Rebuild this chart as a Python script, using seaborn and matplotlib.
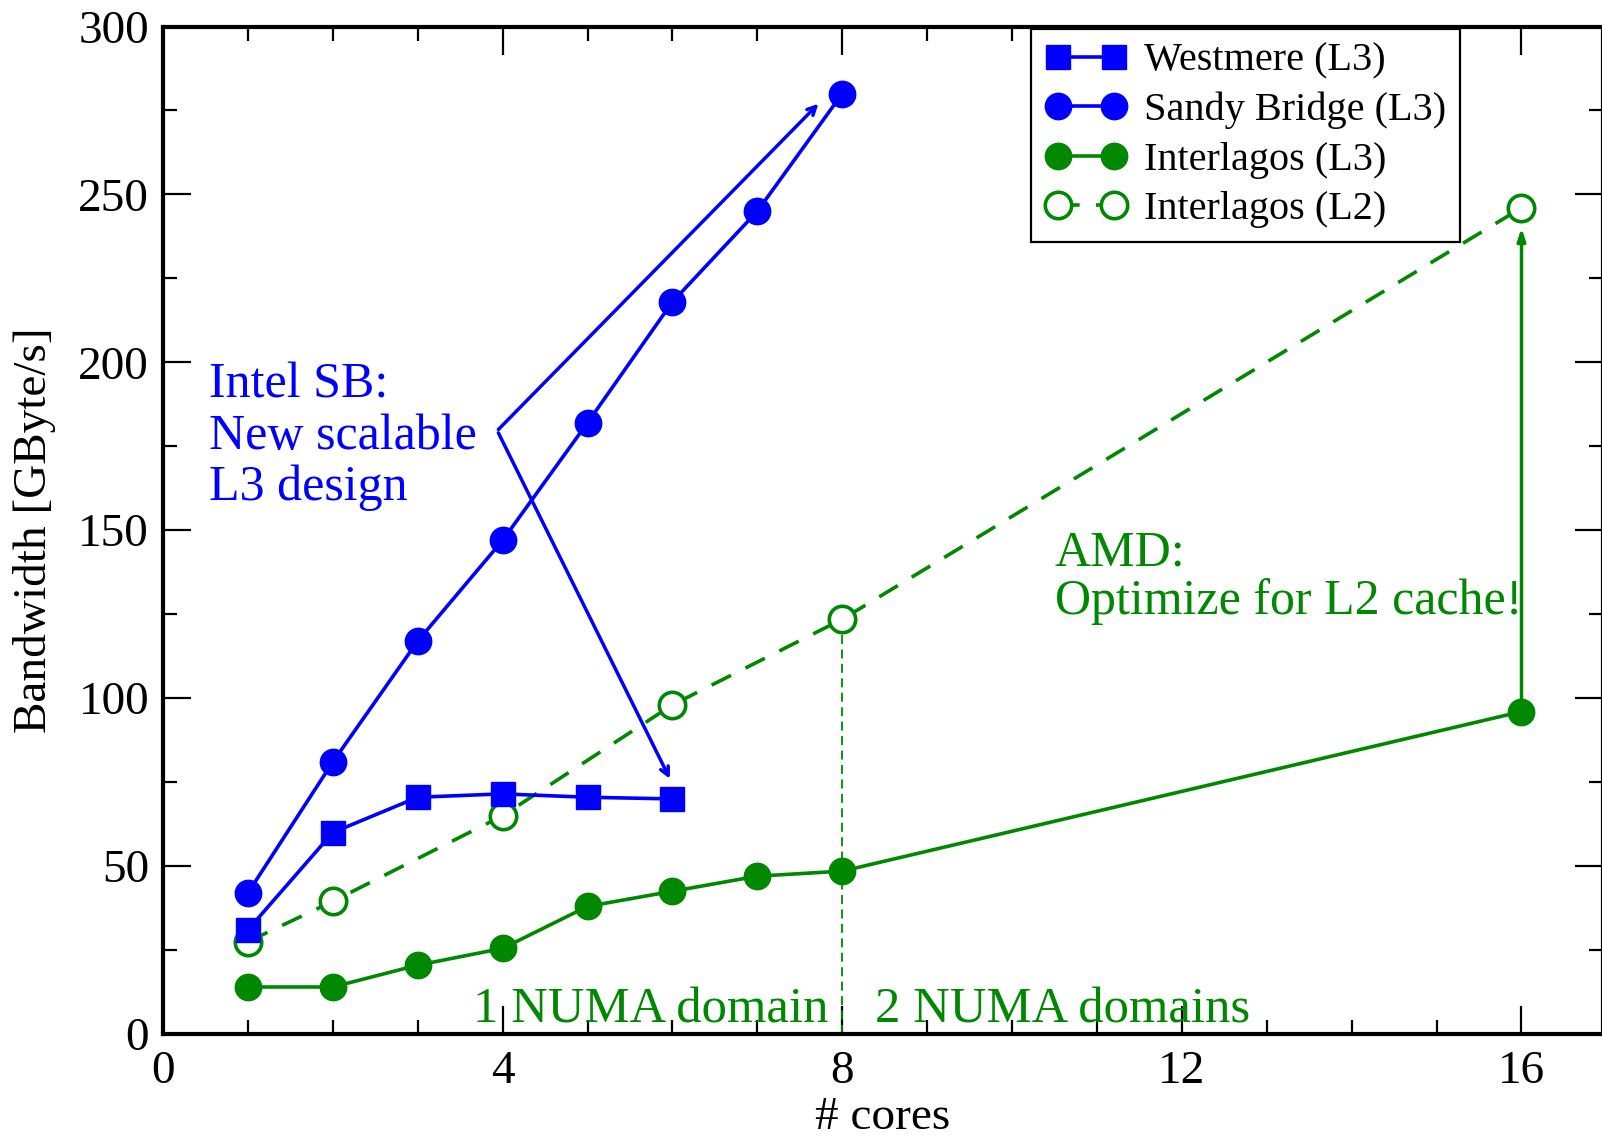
import numpy as np
import pandas as pd
import matplotlib
matplotlib.use("Agg")
import matplotlib.pyplot as plt
import seaborn as sns
from matplotlib.lines import Line2D

# ---- data ----
west_x = [1, 2, 3, 4, 5, 6]
west_y = [31, 60, 70.5, 71.5, 70.5, 70]
sb_x = [1, 2, 3, 4, 5, 6, 7, 8]
sb_y = [42, 81, 117, 147, 182, 218, 245, 280]
il3_x = [1, 2, 3, 4, 5, 6, 7, 8, 16]
il3_y = [14, 14, 20.5, 25.5, 38, 42.5, 47, 48.5, 96]
il2_x = [1, 2, 4, 6, 8, 16]
il2_y = [27.5, 39.5, 65, 98, 123.5, 246]
labels = ["Westmere (L3)", "Sandy Bridge (L3)", "Interlagos (L3)", "Interlagos (L2)"]

BLUE = "#0000ff"
GREEN = "#008800"

sns.set_theme(style="ticks")
plt.rcParams["font.family"] = ["Liberation Serif", "DejaVu Serif"]
plt.rcParams["text.color"] = "black"
plt.rcParams["axes.labelcolor"] = "black"
plt.rcParams["xtick.color"] = "black"
plt.rcParams["ytick.color"] = "black"
plt.rcParams["xtick.labelcolor"] = "black"
plt.rcParams["ytick.labelcolor"] = "black"

fig = plt.figure(figsize=(16.02, 11.37), dpi=100)
ax = fig.add_axes([163 / 1602, 1 - 1034 / 1137, 1440 / 1602, (1034 - 26.5) / 1137])

lw = 2.6
DASH = (0, (6, 4.5))
sns.lineplot(x=west_x, y=west_y, ax=ax, color=BLUE, lw=lw, marker="s", markersize=17,
             markeredgecolor=BLUE, markeredgewidth=1, zorder=4)
sns.lineplot(x=sb_x, y=sb_y, ax=ax, color=BLUE, lw=lw, marker="o", markersize=19,
             markeredgecolor=BLUE, markeredgewidth=1, zorder=4)
sns.lineplot(x=il3_x, y=il3_y, ax=ax, color=GREEN, lw=lw, marker="o", markersize=19,
             markeredgecolor=GREEN, markeredgewidth=1, zorder=4)
sns.lineplot(x=il2_x, y=il2_y, ax=ax, color=GREEN, lw=lw, marker="o", markersize=19,
             markerfacecolor="white", markeredgecolor=GREEN, markeredgewidth=2.6,
             zorder=3)
ax.lines[-1].set_linestyle(DASH)

# vertical separator at 8 cores
ax.plot([8, 8], [0, il2_y[4]], color=GREEN, lw=1.3, ls=(0, (5, 3)), zorder=2)

# arrows
ax.annotate("", xy=(7.72, 277), xytext=(3.95, 180),
            arrowprops=dict(arrowstyle="->,head_length=0.5,head_width=0.25", color=BLUE, lw=2.5,
                            shrinkA=0, shrinkB=0))
ax.annotate("", xy=(5.97, 76), xytext=(3.95, 179),
            arrowprops=dict(arrowstyle="->,head_length=0.5,head_width=0.25", color=BLUE, lw=2.5,
                            shrinkA=0, shrinkB=0))
ax.annotate("", xy=(16, 240), xytext=(16, 96),
            arrowprops=dict(arrowstyle="-|>,head_length=0.6,head_width=0.2", color=GREEN, lw=2.5,
                            shrinkA=0, shrinkB=0))

# texts
ax.text(0.54, 200, "Intel SB:\nNew scalable\nL3 design", color=BLUE, fontsize=36,
        va="top", ha="left", linespacing=1.13)
ax.text(10.5, 150, "AMD:\nOptimize for L2 cache!", color=GREEN, fontsize=36,
        va="top", ha="left", linespacing=1.04)
ax.text(7.84, 3.5, "1 NUMA domain", color=GREEN, fontsize=36.5, ha="right", va="baseline")
ax.text(8.38, 3.5, "2 NUMA domains", color=GREEN, fontsize=36.5, ha="left", va="baseline")

# axes
ax.set_xlim(0, 16.96)
ax.set_ylim(0, 300)
ax.set_xticks([0, 4, 8, 12, 16])
ax.set_xticks(np.arange(0, 17, 1), minor=True)
ax.set_yticks(np.arange(0, 301, 50))
ax.set_yticks(np.arange(0, 301, 25), minor=True)
ax.tick_params(which="both", direction="in", top=True, right=True, colors="black",
               labelcolor="black", labelsize=34)
ax.tick_params(which="major", length=20, width=1.6)
ax.tick_params(axis="x", which="major", pad=12)
ax.tick_params(axis="y", which="major", pad=10)
ax.tick_params(which="minor", length=10, width=1.6)
for s in ax.spines.values():
    s.set_linewidth(3)
    s.set_color("black")
ax.set_xlabel("# cores", fontsize=34, color="black")
ax.set_ylabel("Bandwidth [GByte/s]", fontsize=34, color="black")
ax.xaxis.set_label_coords(0.5, -0.062)
ax.yaxis.set_label_coords(-0.074, 0.5)

# legend
handles = [
    Line2D([], [], color=BLUE, lw=lw, marker="s", markersize=17, markeredgecolor=BLUE),
    Line2D([], [], color=BLUE, lw=lw, marker="o", markersize=19, markeredgecolor=BLUE),
    Line2D([], [], color=GREEN, lw=lw, marker="o", markersize=19, markeredgecolor=GREEN),
    Line2D([], [], color=GREEN, lw=lw, ls=DASH, marker="o", markersize=19,
           markerfacecolor="white", markeredgecolor=GREEN, markeredgewidth=2.6),
]
leg = ax.legend(handles, labels, loc="upper right", bbox_to_anchor=(0.901, 0.998),
                borderaxespad=0, numpoints=2, handlelength=2.0, handletextpad=0.45,
                fontsize=29, frameon=True, fancybox=False, edgecolor="black",
                framealpha=1, borderpad=0.35, labelspacing=0.3, labelcolor="black")
leg.get_frame().set_linewidth(1.6)

fig.savefig("out.png", dpi=100)
